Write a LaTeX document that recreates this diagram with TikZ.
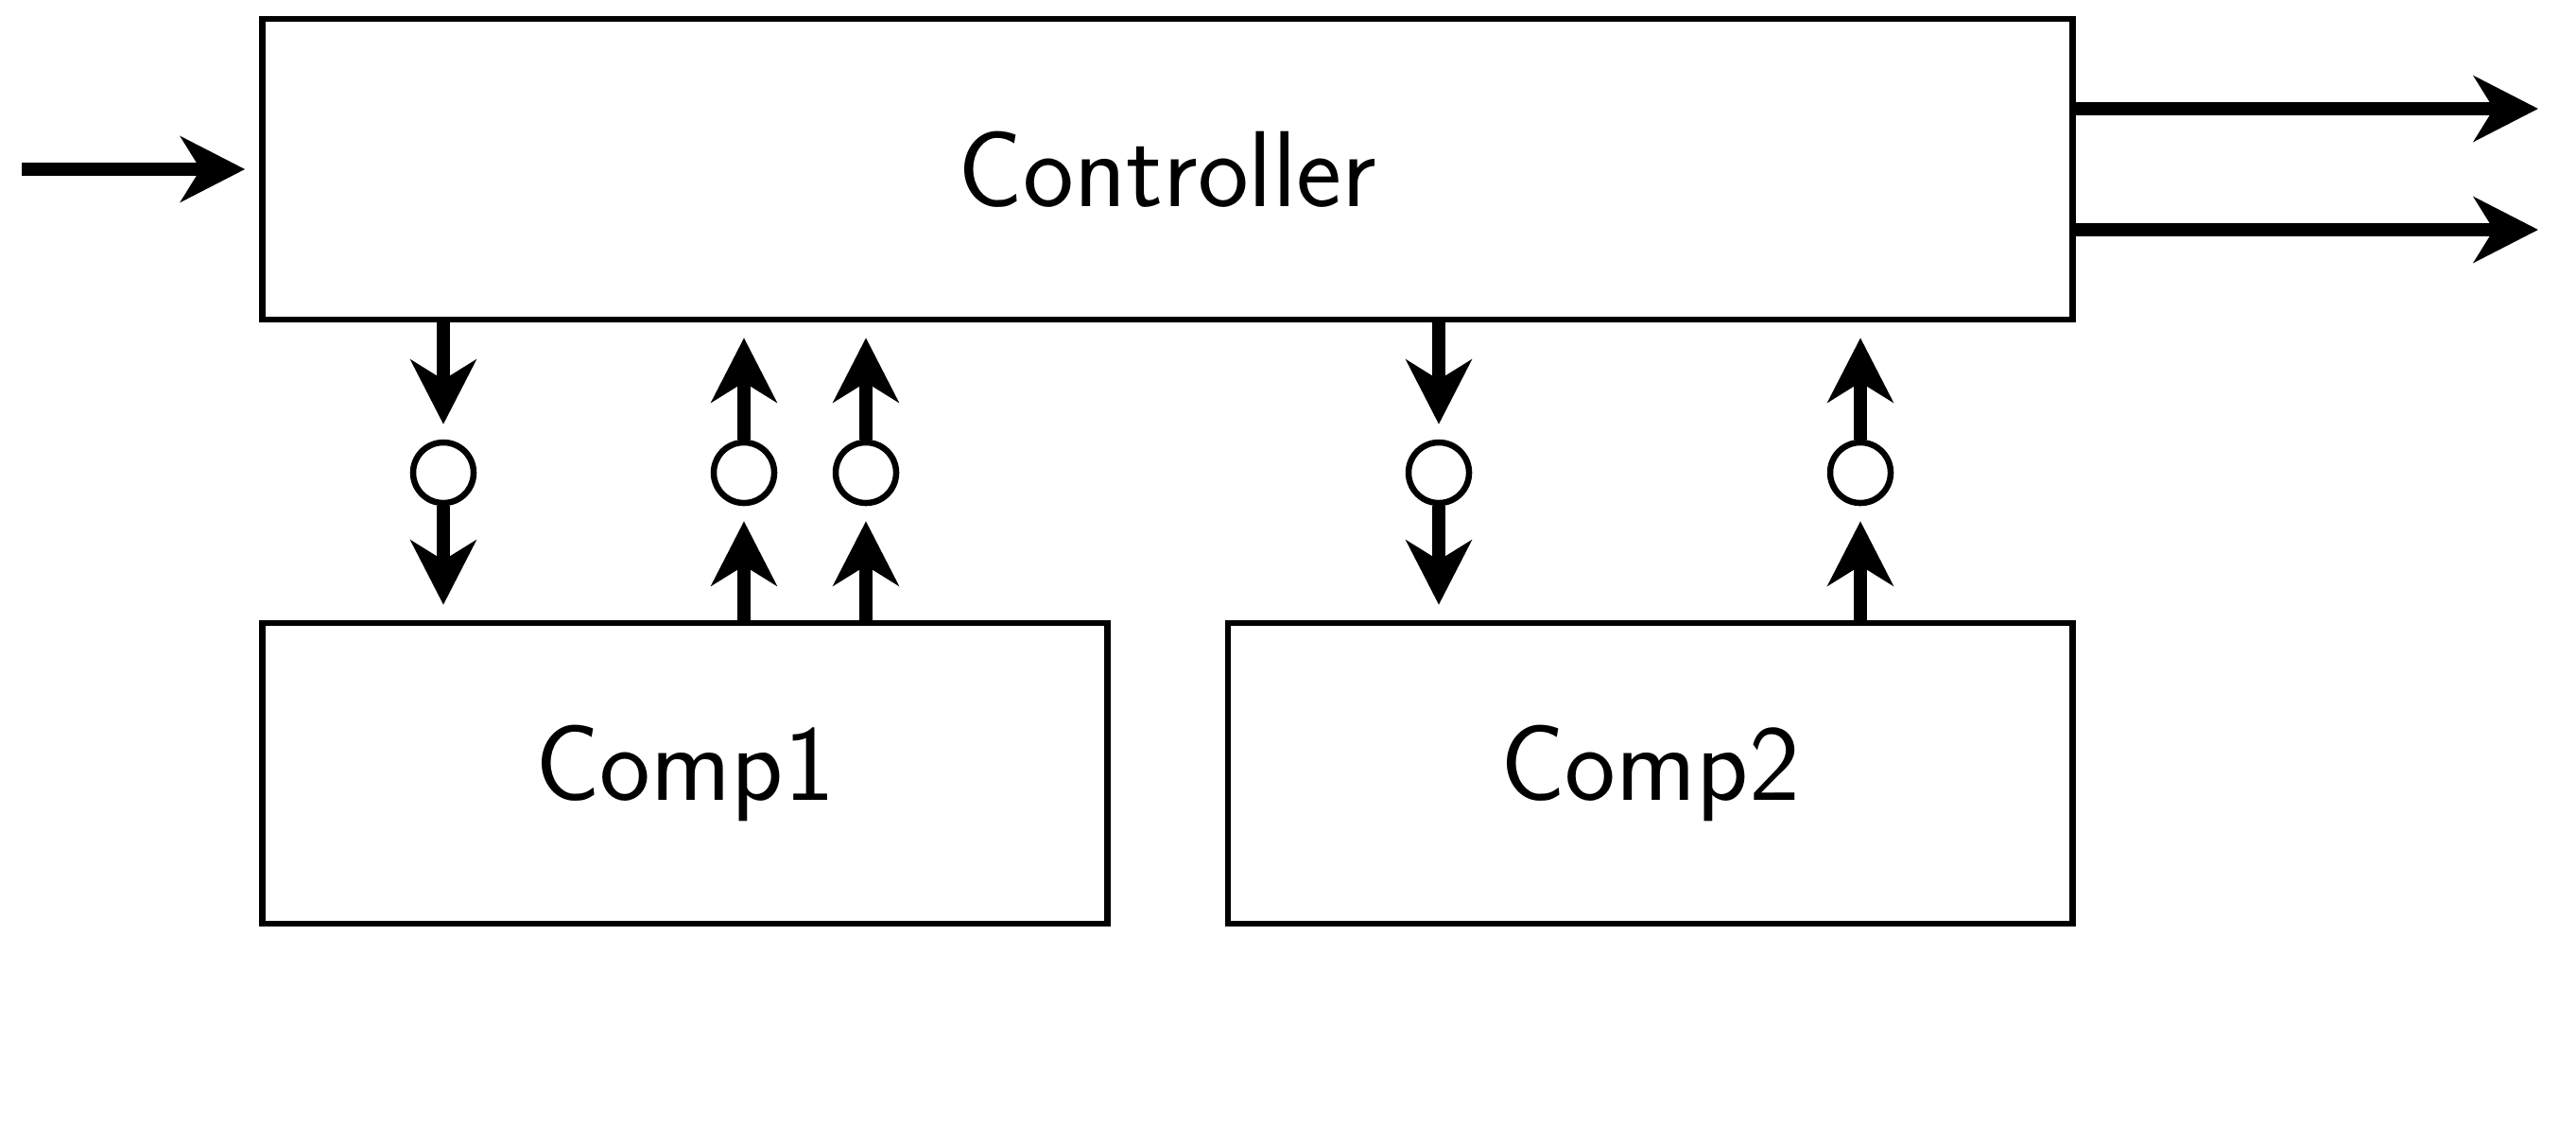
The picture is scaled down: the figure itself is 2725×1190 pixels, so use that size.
\documentclass[tikz,border=0pt]{standalone}
\usetikzlibrary{arrows.meta}
\begin{document}
\begin{tikzpicture}[x=0.01cm, y=-0.01cm,
  block/.style={draw, line width=0.065cm, rectangle, inner sep=0pt,
    minimum height=3.18cm, font=\sffamily\fontsize{32.5}{38}\selectfont},
  junction/.style={draw, line width=0.065cm, circle, inner sep=0pt,
    minimum size=0.64cm, fill=white},
  sig/.style={line width=0.14cm,
    -{Stealth[length=0.68cm, width=0.69cm, inset=0.21cm]}},
  gap/.style={shorten >=0.16cm}]

  % page frame
  \useasboundingbox (0,0) rectangle (2725,1190);

  % blocks
  \node[block, minimum width=19.14cm] (ctrl)  at (1235,179)  {Controller};
  \node[block, minimum width=8.93cm]  (comp1) at (724.5,818) {Comp1};
  \node[block, minimum width=8.93cm]  (comp2) at (1745.5,818) {Comp2};

  % junctions between controller and components
  \node[junction] (j1) at (469,500) {};
  \node[junction] (j2) at (787,500) {};
  \node[junction] (j3) at (916,500) {};
  \node[junction] (j4) at (1522,500) {};
  \node[junction] (j5) at (1968,500) {};

  % external input and outputs
  \coordinate (in)   at (23,179);
  \coordinate (out1) at (2685,115);
  \coordinate (out2) at (2685,243);

  \draw[sig, shorten >=0.15cm] (in) -- (ctrl.west);
  \draw[sig] (out1 -| ctrl.east) -- (out1);
  \draw[sig] (out2 -| ctrl.east) -- (out2);

  % controller -> comp1
  \draw[sig, gap] (j1 |- ctrl.south) -- (j1.north);
  \draw[sig, gap] (j1.south) -- (j1 |- comp1.north);

  % comp1 -> controller
  \draw[sig, gap] (j2 |- comp1.north) -- (j2.south);
  \draw[sig, gap] (j2.north) -- (j2 |- ctrl.south);
  \draw[sig, gap] (j3 |- comp1.north) -- (j3.south);
  \draw[sig, gap] (j3.north) -- (j3 |- ctrl.south);

  % controller -> comp2
  \draw[sig, gap] (j4 |- ctrl.south) -- (j4.north);
  \draw[sig, gap] (j4.south) -- (j4 |- comp2.north);

  % comp2 -> controller
  \draw[sig, gap] (j5 |- comp2.north) -- (j5.south);
  \draw[sig, gap] (j5.north) -- (j5 |- ctrl.south);
\end{tikzpicture}
\end{document}
